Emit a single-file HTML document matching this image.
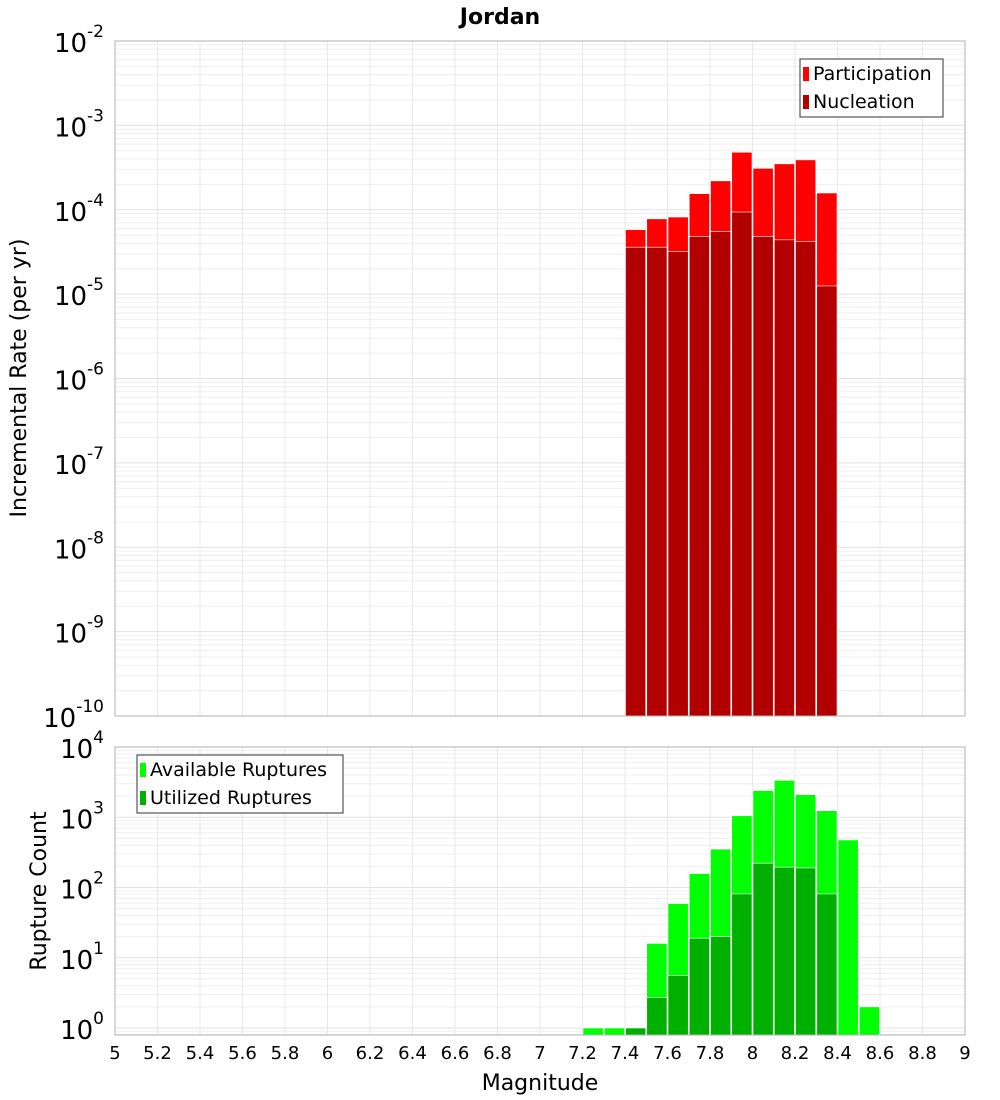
<!DOCTYPE html>
<html><head><meta charset="utf-8"><style>
html,body{margin:0;padding:0;background:#fff;}
svg{display:block;font-family:"DejaVu Sans","Liberation Sans",sans-serif;}
</style></head><body>
<svg id="chart" width="1000" height="1100" xmlns="http://www.w3.org/2000/svg">
<text x="500" y="24" text-anchor="middle" font-size="22" font-weight="bold">Jordan</text>
<g id="top"></g>
<g id="bot"></g>
<text transform="translate(26,378) rotate(-90)" text-anchor="middle" font-size="22">Incremental Rate (per yr)</text>
<text transform="translate(46,891) rotate(-90)" text-anchor="middle" font-size="22">Rupture Count</text>
<text x="540" y="1090" text-anchor="middle" font-size="22">Magnitude</text>
</svg>
<script>
const rateMags = [7.45,7.55,7.65,7.75,7.85,7.95,8.05,8.15,8.25,8.35];
const participation = [5.8e-5,7.8e-5,8.2e-5,1.55e-4,2.2e-4,4.8e-4,3.1e-4,3.5e-4,3.9e-4,1.58e-4];
const nucleation = [3.6e-5,3.6e-5,3.2e-5,4.8e-5,5.5e-5,9.4e-5,4.8e-5,4.4e-5,4.2e-5,1.25e-5];
const countMags = [7.25,7.35,7.45,7.55,7.65,7.75,7.85,7.95,8.05,8.15,8.25,8.35,8.45,8.55];
const available = [1,1,1,16,59,158,352,1050,2400,3350,2100,1240,475,2];
const utilized = [0,0,1,2.7,5.6,19,20,81,222,195,190,81,0,0];
const xTicks = [5,5.2,5.4,5.6,5.8,6,6.2,6.4,6.6,6.8,7,7.2,7.4,7.6,7.8,8,8.2,8.4,8.6,8.8,9];
const rateExps = [-2,-3,-4,-5,-6,-7,-8,-9,-10];
const countExps = [4,3,2,1,0];

const NS="http://www.w3.org/2000/svg";
const X0=115,X1=965;
const xs=m=>X0+(m-5)/4*(X1-X0);
function mk(p,tag,attrs){const e=document.createElementNS(NS,tag);for(const k in attrs)e.setAttribute(k,attrs[k]);p.appendChild(e);return e;}

function plot(g,top,bot,lmax,lmin,exps){
  const ys=v=>top+(lmax-Math.log10(v))/(lmax-lmin)*(bot-top);
  for(let e=Math.floor(lmin);e<lmax;e++){for(let k=1;k<10;k++){const v=k*Math.pow(10,e);const l=Math.log10(v);if(l<lmin||l>lmax)continue;
    const y=ys(v);const ln=mk(g,'line',{x1:X0,x2:X1,y1:y,y2:y,stroke:k==1?'#e2e2e2':'#efefef','stroke-width':1});
    
    }}
  xTicks.forEach(t=>{const x=xs(t);const ln=mk(g,'line',{x1:x,x2:x,y1:top,y2:bot,stroke:'#e8e8e8','stroke-width':1});
    
    });
  exps.forEach(e=>{const y=ys(Math.pow(10,e));const t=mk(g,'text',{x:104,y:y+11,'text-anchor':'end','font-size':26});
    
    
    t.textContent='10';const s=mk(t,'tspan',{dy:-15,'font-size':17});s.textContent=String(e);});
  return ys;
}
function frame(g,top,bot){const r=mk(g,'rect',{x:X0,y:top,width:X1-X0,height:bot-top,fill:'none',stroke:'#b0b0b0','stroke-width':1});
  
  }
function bars(g,mags,vals,ys,bot,color,name){const w=xs(5.1)-xs(5);
  mags.forEach((m,i)=>{if(vals[i]<=0)return;const y=ys(vals[i]);
    const r=mk(g,'rect',{x:xs(m)-w/2+0.5,y:y,width:w-1,height:bot-y,fill:color,stroke:'#fff','stroke-width':0.6});
    
    });}
function legend(g,x,y,w,items){const b=mk(g,'rect',{x:x,y:y,width:w,height:items.length*28+2,fill:'#fff',stroke:'#333','stroke-width':1});
  
  
  items.forEach((it,i)=>{const yy=y+3+i*28;const s=mk(g,'rect',{x:x+3,y:yy+5,width:6,height:14,fill:it[1]});
    
    
    const t=mk(g,'text',{x:x+13,y:yy+18,'font-size':19});
    
    
    t.textContent=it[0];});}

const gt=document.getElementById('top');
const T0=41,T1=716;
const ysT=plot(gt,T0,T1,-2,-10,rateExps);
bars(gt,rateMags,participation,ysT,T1,'#ff0000','participation-bar');
bars(gt,rateMags,nucleation,ysT,T1,'#b20000','nucleation-bar');
frame(gt,T0,T1);
legend(gt,800,59,143,[['Participation','#ff0000'],['Nucleation','#b20000']]);

const gb=document.getElementById('bot');
const B0=747,B1=1035;
const ysB=plot(gb,B0,B1,4,4-(B1-B0)/70.25,countExps);
bars(gb,countMags,available,ysB,B1,'#00ff00','available-bar');
bars(gb,countMags,utilized,ysB,B1,'#00b000','utilized-bar');
frame(gb,B0,B1);
legend(gb,137,755,206,[['Available Ruptures','#00ff00'],['Utilized Ruptures','#00b000']]);

xTicks.forEach(t=>{const tx=mk(gb,'text',{x:xs(t),y:1059,'text-anchor':'middle','font-size':18});
  
  
  tx.textContent=String(t);});
</script>
</body></html>
